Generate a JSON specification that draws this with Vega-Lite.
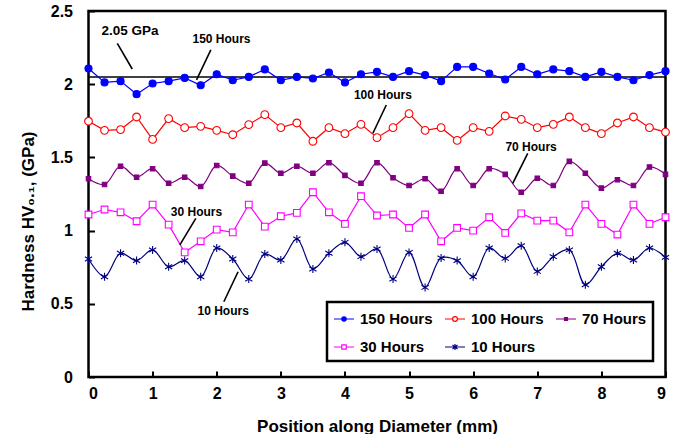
{
  "$schema": "https://vega.github.io/schema/vega-lite/v6.json",
  "width": 577,
  "height": 366,
  "autosize": {"type": "none"},
  "padding": {"left": 88.5, "top": 11, "right": 14.5, "bottom": 57},
  "background": "white",
  "config": {
    "font": "Liberation Sans",
    "view": {"stroke": "black", "strokeWidth": 2.5},
    "axis": {
      "domain": false,
      "grid": false,
      "tickColor": "black",
      "tickWidth": 2,
      "tickSize": -6,
      "labelColor": "black",
      "labelFont": "Liberation Sans",
      "labelFontSize": 16,
      "labelFontWeight": "bold",
      "titleColor": "black",
      "titleFont": "Liberation Sans",
      "titleFontSize": 17,
      "titleFontWeight": "bold"
    }
  },
  "datasets": {
    "hv": [
      {"x": 0, "150 Hours": 2.107, "100 Hours": 1.747, "70 Hours": 1.354, "30 Hours": 1.110, "10 Hours": 0.806},
      {"x": 0.25, "150 Hours": 2.012, "100 Hours": 1.685, "70 Hours": 1.315, "30 Hours": 1.144, "10 Hours": 0.685},
      {"x": 0.5, "150 Hours": 2.021, "100 Hours": 1.690, "70 Hours": 1.440, "30 Hours": 1.125, "10 Hours": 0.845},
      {"x": 0.75, "150 Hours": 1.932, "100 Hours": 1.776, "70 Hours": 1.365, "30 Hours": 1.064, "10 Hours": 0.795},
      {"x": 1, "150 Hours": 2.005, "100 Hours": 1.623, "70 Hours": 1.423, "30 Hours": 1.178, "10 Hours": 0.868},
      {"x": 1.25, "150 Hours": 2.021, "100 Hours": 1.765, "70 Hours": 1.324, "30 Hours": 1.041, "10 Hours": 0.753},
      {"x": 1.5, "150 Hours": 2.043, "100 Hours": 1.703, "70 Hours": 1.365, "30 Hours": 0.851, "10 Hours": 0.795},
      {"x": 1.75, "150 Hours": 1.993, "100 Hours": 1.712, "70 Hours": 1.301, "30 Hours": 0.927, "10 Hours": 0.685},
      {"x": 2, "150 Hours": 2.068, "100 Hours": 1.685, "70 Hours": 1.445, "30 Hours": 1.007, "10 Hours": 0.881},
      {"x": 2.25, "150 Hours": 2.027, "100 Hours": 1.655, "70 Hours": 1.372, "30 Hours": 0.988, "10 Hours": 0.806},
      {"x": 2.5, "150 Hours": 2.050, "100 Hours": 1.724, "70 Hours": 1.324, "30 Hours": 1.178, "10 Hours": 0.669},
      {"x": 2.75, "150 Hours": 2.101, "100 Hours": 1.792, "70 Hours": 1.461, "30 Hours": 1.027, "10 Hours": 0.840},
      {"x": 3, "150 Hours": 2.027, "100 Hours": 1.703, "70 Hours": 1.392, "30 Hours": 1.098, "10 Hours": 0.799},
      {"x": 3.25, "150 Hours": 2.050, "100 Hours": 1.735, "70 Hours": 1.440, "30 Hours": 1.121, "10 Hours": 0.943},
      {"x": 3.5, "150 Hours": 2.039, "100 Hours": 1.610, "70 Hours": 1.392, "30 Hours": 1.262, "10 Hours": 0.738},
      {"x": 3.75, "150 Hours": 2.080, "100 Hours": 1.703, "70 Hours": 1.464, "30 Hours": 1.125, "10 Hours": 0.845},
      {"x": 4, "150 Hours": 2.012, "100 Hours": 1.662, "70 Hours": 1.377, "30 Hours": 1.046, "10 Hours": 0.920},
      {"x": 4.25, "150 Hours": 2.068, "100 Hours": 1.726, "70 Hours": 1.324, "30 Hours": 1.235, "10 Hours": 0.822},
      {"x": 4.5, "150 Hours": 2.084, "100 Hours": 1.635, "70 Hours": 1.464, "30 Hours": 1.103, "10 Hours": 0.875},
      {"x": 4.75, "150 Hours": 2.050, "100 Hours": 1.703, "70 Hours": 1.361, "30 Hours": 1.110, "10 Hours": 0.669},
      {"x": 5, "150 Hours": 2.089, "100 Hours": 1.799, "70 Hours": 1.308, "30 Hours": 1.018, "10 Hours": 0.851},
      {"x": 5.25, "150 Hours": 2.062, "100 Hours": 1.685, "70 Hours": 1.354, "30 Hours": 1.110, "10 Hours": 0.612},
      {"x": 5.5, "150 Hours": 2.021, "100 Hours": 1.703, "70 Hours": 1.269, "30 Hours": 0.927, "10 Hours": 0.813},
      {"x": 5.75, "150 Hours": 2.118, "100 Hours": 1.616, "70 Hours": 1.423, "30 Hours": 1.018, "10 Hours": 0.795},
      {"x": 6, "150 Hours": 2.118, "100 Hours": 1.703, "70 Hours": 1.308, "30 Hours": 1.000, "10 Hours": 0.685},
      {"x": 6.25, "150 Hours": 2.073, "100 Hours": 1.678, "70 Hours": 1.423, "30 Hours": 1.091, "10 Hours": 0.881},
      {"x": 6.5, "150 Hours": 2.032, "100 Hours": 1.783, "70 Hours": 1.384, "30 Hours": 0.984, "10 Hours": 0.810},
      {"x": 6.75, "150 Hours": 2.118, "100 Hours": 1.760, "70 Hours": 1.262, "30 Hours": 1.118, "10 Hours": 0.897},
      {"x": 7, "150 Hours": 2.068, "100 Hours": 1.703, "70 Hours": 1.358, "30 Hours": 1.068, "10 Hours": 0.721},
      {"x": 7.25, "150 Hours": 2.101, "100 Hours": 1.726, "70 Hours": 1.308, "30 Hours": 1.068, "10 Hours": 0.822},
      {"x": 7.5, "150 Hours": 2.089, "100 Hours": 1.776, "70 Hours": 1.473, "30 Hours": 0.988, "10 Hours": 0.868},
      {"x": 7.75, "150 Hours": 2.050, "100 Hours": 1.703, "70 Hours": 1.392, "30 Hours": 1.178, "10 Hours": 0.630},
      {"x": 8, "150 Hours": 2.084, "100 Hours": 1.662, "70 Hours": 1.290, "30 Hours": 1.046, "10 Hours": 0.753},
      {"x": 8.25, "150 Hours": 2.050, "100 Hours": 1.735, "70 Hours": 1.347, "30 Hours": 0.973, "10 Hours": 0.845},
      {"x": 8.5, "150 Hours": 2.027, "100 Hours": 1.776, "70 Hours": 1.308, "30 Hours": 1.178, "10 Hours": 0.799},
      {"x": 8.75, "150 Hours": 2.062, "100 Hours": 1.703, "70 Hours": 1.434, "30 Hours": 1.046, "10 Hours": 0.881},
      {"x": 9, "150 Hours": 2.089, "100 Hours": 1.673, "70 Hours": 1.384, "30 Hours": 1.091, "10 Hours": 0.817}
    ],
    "ref": [{"y": 2.05}],
    "bignote": [{"label": "2.05 GPa", "x": 0.646, "y": 2.36}],
    "notes": [
      {"label": "150 Hours", "x": 2.075, "y": 2.309},
      {"label": "100 Hours", "x": 4.592, "y": 1.926},
      {"label": "70 Hours", "x": 6.903, "y": 1.569},
      {"label": "30 Hours", "x": 1.685, "y": 1.129},
      {"label": "10 Hours", "x": 2.1, "y": 0.453}
    ],
    "leaders": [
      {"x": 0.449, "y": 2.279, "x2": 0.682, "y2": 2.104},
      {"x": 1.908, "y": 2.234, "x2": 1.685, "y2": 2.029},
      {"x": 4.645, "y": 1.858, "x2": 4.436, "y2": 1.665},
      {"x": 6.851, "y": 1.528, "x2": 6.617, "y2": 1.323},
      {"x": 1.674, "y": 1.084, "x2": 1.425, "y2": 0.902},
      {"x": 2.111, "y": 0.514, "x2": 2.333, "y2": 0.719}
    ]
  },
  "layer": [
    {
      "data": {"name": "ref"},
      "mark": {"type": "rule", "color": "black", "strokeWidth": 1.5},
      "encoding": {
        "y": {"field": "y", "type": "quantitative", "scale": {"domain": [0, 2.5], "nice": false}}
      }
    },
    {
      "data": {"name": "hv"},
      "transform": [
        {"fold": ["150 Hours", "100 Hours", "70 Hours", "30 Hours", "10 Hours"], "as": ["series", "hv"]},
        {"filter": {"field": "series", "oneOf": ["150 Hours", "100 Hours", "30 Hours"]}}
      ],
      "mark": {"type": "line", "interpolate": "linear", "strokeWidth": 1.2},
      "encoding": {
        "x": {
          "field": "x", "type": "quantitative",
          "scale": {"domain": [0, 9], "nice": false},
          "axis": {"values": [0, 1, 2, 3, 4, 5, 6, 7, 8, 9], "format": "~g", "title": "Position along Diameter (mm)", "labelPadding": 14, "titlePadding": 17}
        },
        "y": {
          "field": "hv", "type": "quantitative",
          "scale": {"domain": [0, 2.5], "nice": false},
          "axis": {"values": [0, 0.5, 1, 1.5, 2, 2.5], "format": "~g", "title": "Hardness HV₀.₁, (GPa)", "labelPadding": 22, "titlePadding": 13, "titleY": 210}
        },
        "color": {
          "field": "series", "type": "nominal",
          "scale": {
            "domain": ["150 Hours", "100 Hours", "70 Hours", "30 Hours", "10 Hours"],
            "range": ["#0000ff", "#ff0000", "#800080", "#ff00ff", "#000080"]
          },
          "legend": {
            "title": null,
            "orient": "none",
            "legendX": 238.5,
            "legendY": 291,
            "direction": "horizontal",
            "columns": 3,
            "gridAlign": "all",
            "strokeColor": "black",
            "fillColor": "white",
            "padding": 6,
            "columnPadding": 9,
            "rowPadding": 9,
            "symbolSize": 400,
            "symbolStrokeWidth": 1.2,
            "labelOffset": 5,
            "labelFont": "Liberation Sans",
            "labelFontSize": 15,
            "labelFontWeight": "bold",
            "labelColor": "black",
            "encode": {
              "legend": {"update": {"strokeWidth": {"value": 2.5}}},
              "symbols": {
                "update": {
                  "shape": {"signal": "datum.value === '150 Hours' ? 'M-1,0L1,0M-0.22,0A0.22,0.22,0,1,0,0.22,0A0.22,0.22,0,1,0,-0.22,0Z' : datum.value === '100 Hours' ? 'M-1,0L-0.24,0M0.24,0L1,0M-0.24,0A0.24,0.24,0,1,0,0.24,0A0.24,0.24,0,1,0,-0.24,0Z' : datum.value === '70 Hours' ? 'M-1,0L1,0M-0.15,-0.15L0.15,-0.15L0.15,0.15L-0.15,0.15Z' : datum.value === '30 Hours' ? 'M-1,0L-0.22,0M0.22,0L1,0M-0.22,-0.22L0.22,-0.22L0.22,0.22L-0.22,0.22Z' : 'M-1,0L1,0M-0.25,-0.2L0.25,0.2M-0.25,0.2L0.25,-0.2M0,-0.3L0,0.3'"},
                  "fill": {"signal": "datum.value === '150 Hours' ? '#0000ff' : datum.value === '70 Hours' ? '#800080' : 'white'"},
                  "stroke": {"signal": "datum.value === '150 Hours' ? '#0000ff' : datum.value === '100 Hours' ? '#ff0000' : datum.value === '70 Hours' ? '#800080' : datum.value === '30 Hours' ? '#ff00ff' : '#000080'"},
                  "opacity": {"value": 1},
                  "size": {"value": 400},
                  "strokeWidth": {"value": 1.2}
                }
              }
            }
          }
        }
      }
    },
    {
      "data": {"name": "hv"},
      "transform": [
        {"fold": ["150 Hours", "100 Hours", "70 Hours", "30 Hours", "10 Hours"], "as": ["series", "hv"]},
        {"filter": {"field": "series", "oneOf": ["70 Hours", "10 Hours"]}}
      ],
      "mark": {"type": "line", "interpolate": "catmull-rom", "strokeWidth": 1.2},
      "encoding": {
        "x": {"field": "x", "type": "quantitative"},
        "y": {"field": "hv", "type": "quantitative"},
        "color": {"field": "series", "type": "nominal"}
      }
    },
    {
      "data": {"name": "hv"},
      "transform": [
        {"fold": ["150 Hours", "100 Hours", "70 Hours", "30 Hours", "10 Hours"], "as": ["kind", "hv"]}
      ],
      "mark": {"type": "point", "opacity": 1, "strokeWidth": 1.1},
      "encoding": {
        "x": {"field": "x", "type": "quantitative"},
        "y": {"field": "hv", "type": "quantitative"},
        "shape": {
          "field": "kind", "type": "nominal", "legend": null,
          "scale": {
            "domain": ["10 Hours", "30 Hours", "70 Hours", "100 Hours", "150 Hours"],
            "range": ["M-0.9,-0.55L0.9,0.55M-0.9,0.55L0.9,-0.55M0,-1L0,1", "square", "square", "circle", "circle"]
          }
        },
        "stroke": {
          "field": "kind", "type": "nominal", "legend": null,
          "scale": {
            "domain": ["10 Hours", "30 Hours", "70 Hours", "100 Hours", "150 Hours"],
            "range": ["#000080", "#ff00ff", "#800080", "#ff0000", "#0000ff"]
          }
        },
        "fill": {
          "field": "kind", "type": "nominal", "legend": null,
          "scale": {
            "domain": ["10 Hours", "30 Hours", "70 Hours", "100 Hours", "150 Hours"],
            "range": ["#000080", "#ffffff", "#800080", "#ffffff", "#0000ff"]
          }
        },
        "size": {
          "field": "kind", "type": "nominal", "legend": null,
          "scale": {
            "type": "ordinal",
            "domain": ["10 Hours", "30 Hours", "70 Hours", "100 Hours", "150 Hours"],
            "range": [64, 45, 20, 60, 50]
          }
        }
      }
    },
    {
      "data": {"name": "leaders"},
      "mark": {"type": "rule", "color": "black", "strokeWidth": 1.6},
      "encoding": {
        "x": {"field": "x", "type": "quantitative"},
        "y": {"field": "y", "type": "quantitative"},
        "x2": {"field": "x2"},
        "y2": {"field": "y2"}
      }
    },
    {
      "data": {"name": "bignote"},
      "mark": {"type": "text", "font": "Liberation Sans", "fontSize": 13.5, "fontWeight": "bold", "color": "black", "align": "center", "baseline": "middle"},
      "encoding": {
        "x": {"field": "x", "type": "quantitative"},
        "y": {"field": "y", "type": "quantitative"},
        "text": {"field": "label"}
      }
    },
    {
      "data": {"name": "notes"},
      "mark": {"type": "text", "font": "Liberation Sans", "fontSize": 12, "fontWeight": "bold", "color": "black", "align": "center", "baseline": "middle"},
      "encoding": {
        "x": {"field": "x", "type": "quantitative"},
        "y": {"field": "y", "type": "quantitative"},
        "text": {"field": "label"}
      }
    }
  ]
}
